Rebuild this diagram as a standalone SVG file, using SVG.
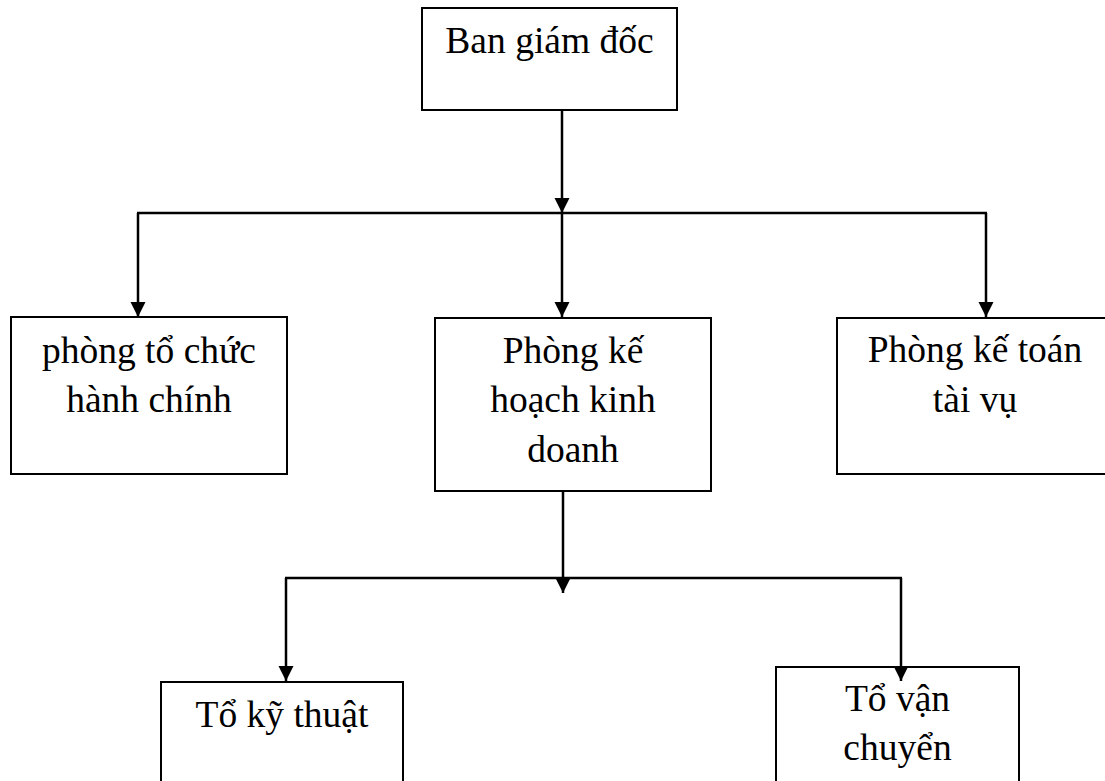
<svg xmlns="http://www.w3.org/2000/svg" width="1105" height="781" viewBox="0 0 1105 781">
<style>
.box{fill:#fff;stroke:#000;stroke-width:2}
.t{font-family:"Liberation Serif","Times New Roman",serif;font-size:37.5px;fill:#000;text-anchor:middle}
.c{fill:none;stroke:#000;stroke-width:2.5}
</style>
<defs>
<marker id="ah" markerUnits="userSpaceOnUse" markerWidth="16" markerHeight="16" refX="15" refY="7.5" orient="auto">
<path d="M0,0 L15,7.5 L0,15 z" fill="#000"/>
</marker>
</defs>
<rect width="1105" height="781" fill="#fff"/>
<g id="n-bgd">
<rect class="box" x="422" y="8" width="255" height="102"/>
<text class="t" x="549.5" y="53">Ban giám đốc</text>
</g>
<g id="n-tchc">
<rect class="box" x="11" y="317" width="276" height="157"/>
<text class="t" x="149" y="363">phòng tổ chức</text>
<text class="t" x="149" y="412">hành chính</text>
</g>
<g id="n-khkd">
<rect class="box" x="435" y="318" width="276" height="173"/>
<text class="t" x="573" y="363">Phòng kế</text>
<text class="t" x="573" y="412">hoạch kinh</text>
<text class="t" x="573" y="462">doanh</text>
</g>
<g id="n-ktvt">
<rect class="box" x="837" y="318" width="278" height="156"/>
<text class="t" x="975" y="362">Phòng kế toán</text>
<text class="t" x="975" y="412">tài vụ</text>
</g>
<g id="n-kt">
<rect class="box" x="161" y="682" width="242" height="120"/>
<text class="t" x="282" y="727">Tổ kỹ thuật</text>
</g>
<g id="n-vc">
<rect class="box" x="776" y="667" width="243" height="130"/>
<text class="t" x="897.5" y="711">Tổ vận</text>
<text class="t" x="897.5" y="760">chuyển</text>
</g>
<g id="connectors">
<path class="c" d="M562,110 V213" marker-end="url(#ah)"/>
<path class="c" d="M137,213 H987"/>
<path class="c" d="M138,213 V317" marker-end="url(#ah)"/>
<path class="c" d="M562,213 V317" marker-end="url(#ah)"/>
<path class="c" d="M986,213 V317" marker-end="url(#ah)"/>
<path class="c" d="M563,491 V593" marker-end="url(#ah)"/>
<path class="c" d="M285,578 H902"/>
<path class="c" d="M286,578 V681" marker-end="url(#ah)"/>
<path class="c" d="M901,578 V681" marker-end="url(#ah)"/>
</g>
</svg>
